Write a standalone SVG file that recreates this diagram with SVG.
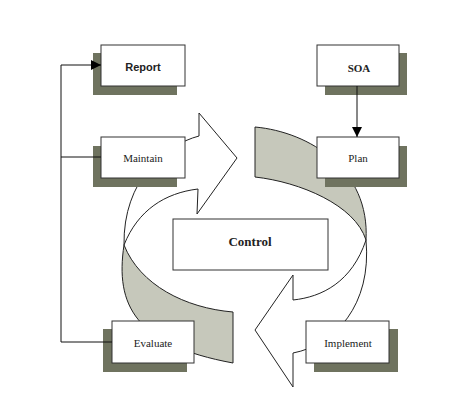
<svg xmlns="http://www.w3.org/2000/svg" width="462" height="400" viewBox="0 0 462 400">
<defs>
<style>
.box{fill:#ffffff;stroke:#333333;stroke-width:1}
.shadow{fill:#6f735f;stroke:none}
.band{fill:#c6c8bb;stroke:#222222;stroke-width:1}
.arrow{fill:#ffffff;stroke:#222222;stroke-width:1}
.conn{fill:none;stroke:#111111;stroke-width:1}
text{fill:#222222;text-anchor:middle}
</style>
<marker id="ah" markerWidth="10" markerHeight="10" refX="10" refY="5" orient="auto" markerUnits="userSpaceOnUse">
<path d="M0,0 L10,5 L0,10 Z" fill="#000000"/>
</marker>
</defs>
<rect width="462" height="400" fill="#ffffff"/>
<g id="cycle">
<path class="band" d="M124,245 C140,285 185,308 233,312 L233,363 C135,345 115,305 124,245 Z"/>
<path class="arrow" d="M198,189 L197,214 L237,158 L199,113 L199,136 C165,145 123,180 124,245 C138,210 165,193 198,189 Z"/>
<path class="band" d="M255,127 C310,132 370,170 366,240 C355,205 300,182 255,177 Z"/>
<path class="arrow" d="M293,300 L293,275 L255,330 L293,387 L293,353 C335,345 372,305 366,240 C352,282 322,297 293,300 Z"/>
</g>
<g id="report">
<rect class="shadow" x="93" y="53" width="84" height="42"/>
<rect class="box" x="101" y="45" width="84" height="41"/>
<text x="143" y="71" font-family="Liberation Sans, Arial, sans-serif" font-size="11" font-weight="bold">Report</text>
</g>
<g id="maintain">
<rect class="shadow" x="93" y="146" width="84" height="41"/>
<rect class="box" x="101" y="137" width="84" height="41"/>
<text x="143" y="162" font-family="Liberation Serif, DejaVu Serif, serif" font-size="11">Maintain</text>
</g>
<g id="soa">
<rect class="shadow" x="325" y="53" width="82" height="42"/>
<rect class="box" x="317" y="45" width="82" height="41"/>
<text x="359" y="72" font-family="Liberation Serif, DejaVu Serif, serif" font-size="11" font-weight="bold">SOA</text>
</g>
<g id="plan">
<rect class="shadow" x="325" y="146" width="82" height="41"/>
<rect class="box" x="317" y="137" width="82" height="41"/>
<text x="358" y="162" font-family="Liberation Serif, DejaVu Serif, serif" font-size="11">Plan</text>
</g>
<g id="control">
<rect class="box" x="173" y="219" width="155" height="51"/>
<text x="250" y="246" font-family="Liberation Serif, DejaVu Serif, serif" font-size="13" font-weight="bold">Control</text>
</g>
<g id="evaluate">
<rect class="shadow" x="103" y="329" width="84" height="43"/>
<rect class="box" x="112" y="321" width="82" height="42"/>
<text x="153" y="347" font-family="Liberation Serif, DejaVu Serif, serif" font-size="11">Evaluate</text>
</g>
<g id="implement">
<rect class="shadow" x="314" y="329" width="84" height="43"/>
<rect class="box" x="306" y="321" width="83" height="42"/>
<text x="348" y="347" font-family="Liberation Serif, DejaVu Serif, serif" font-size="11">Implement</text>
</g>
<g id="connectors">
<path class="conn" d="M61,342 L61,65 L101,65" marker-end="url(#ah)"/>
<path class="conn" d="M61,157 L101,157"/>
<path class="conn" d="M61,342 L112,342"/>
<path class="conn" d="M357,86 L357,137" marker-end="url(#ah)"/>
</g>
</svg>
